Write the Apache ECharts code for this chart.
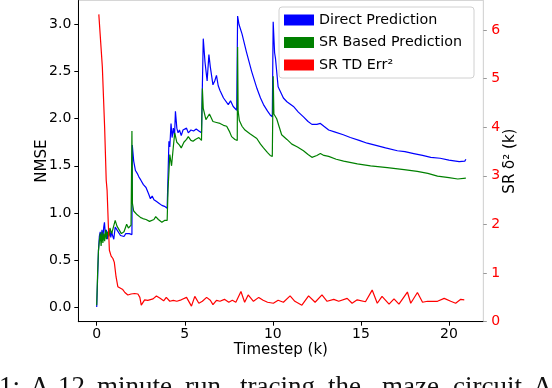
<!DOCTYPE html>
<html>
<head>
<meta charset="utf-8">
<script src="https://cdn.jsdelivr.net/npm/echarts@6/dist/echarts.min.js"></script>
<style>html,body{margin:0;padding:0;background:#fff;}#c{width:552px;height:388px;}</style>
</head>
<body>
<div id="c"></div>
<script>
const xTicks = [0, 5, 10, 15, 20];
const leftTicks = [0, 0.5, 1.0, 1.5, 2.0, 2.5, 3.0];
const rightTicks = [0, 1, 2, 3, 4, 5, 6];

const directX = [0.00,0.05,0.10,0.15,0.20,0.25,0.30,0.35,0.40,0.44,0.50,0.55,0.60,0.65,0.70,0.75,0.80,0.85,0.90,0.97,1.05,1.15,1.25,1.35,1.45,1.55,1.65,1.75,1.85,1.95,2.00,2.02,2.10,2.20,2.30,2.40,2.50,2.65,2.80,2.95,3.05,3.15,3.25,3.40,3.55,3.70,3.85,4.00,4.05,4.10,4.15,4.22,4.28,4.35,4.42,4.47,4.55,4.62,4.70,4.80,4.90,5.00,5.10,5.20,5.35,5.50,5.65,5.80,5.95,6.00,6.05,6.15,6.27,6.37,6.45,6.60,6.70,6.80,6.90,7.00,7.20,7.47,7.60,7.75,7.95,8.00,8.08,8.14,8.25,8.50,8.80,9.10,9.30,9.47,9.70,9.85,9.97,10.02,10.10,10.15,10.30,10.40,10.60,10.80,11.17,11.45,11.74,12.00,12.22,12.50,12.70,12.90,13.17,13.50,14.00,14.40,14.90,15.36,15.80,16.40,17.07,17.50,18.00,18.50,18.97,19.50,20.00,20.58,20.90,20.96];
const directY = [0.00,0.30,0.60,0.75,0.80,0.70,0.82,0.72,0.85,0.90,0.75,0.82,0.72,0.80,0.76,0.82,0.74,0.80,0.76,0.72,0.85,0.82,0.80,0.76,0.74,0.75,0.78,0.76,0.78,0.76,0.77,1.72,1.55,1.45,1.42,1.38,1.35,1.30,1.27,1.20,1.15,1.18,1.14,1.12,1.10,1.08,1.07,1.05,1.40,1.76,1.70,1.95,1.80,1.90,1.82,2.08,1.90,1.85,1.88,1.82,1.88,1.86,1.90,1.85,1.88,1.87,1.89,1.87,1.85,2.35,2.85,2.60,2.40,2.68,2.55,2.36,2.40,2.46,2.35,2.30,2.22,2.15,2.19,2.13,2.09,3.09,3.00,3.02,2.90,2.71,2.50,2.32,2.22,2.15,2.08,2.04,2.02,3.03,2.70,2.64,2.34,2.30,2.22,2.18,2.13,2.07,2.02,1.97,1.94,1.94,1.95,1.92,1.88,1.86,1.83,1.80,1.77,1.74,1.72,1.69,1.66,1.65,1.63,1.61,1.59,1.58,1.56,1.545,1.55,1.57];

const srX = [0.00,0.05,0.10,0.15,0.20,0.25,0.30,0.35,0.40,0.45,0.50,0.55,0.60,0.70,0.75,0.85,0.95,1.05,1.15,1.25,1.40,1.55,1.70,1.80,1.95,2.00,2.03,2.10,2.30,2.50,2.62,2.80,3.00,3.10,3.25,3.35,3.50,3.70,3.85,4.00,4.05,4.15,4.25,4.35,4.43,4.55,4.70,4.80,4.95,5.10,5.20,5.35,5.47,5.60,5.80,5.95,6.00,6.05,6.20,6.40,6.60,6.80,7.00,7.20,7.38,7.55,7.66,7.85,7.98,8.00,8.03,8.10,8.25,8.42,8.70,9.09,9.30,9.47,9.70,9.85,9.97,10.02,10.06,10.22,10.35,10.50,10.80,11.08,11.40,11.74,12.00,12.22,12.50,12.70,12.90,13.17,13.60,14.02,14.80,15.55,16.50,17.45,18.20,18.80,19.35,20.00,20.50,20.96];
const srY = [0.02,0.35,0.60,0.70,0.78,0.65,0.80,0.68,0.78,0.70,0.82,0.72,0.80,0.75,0.84,0.78,0.80,0.92,0.86,0.85,0.78,0.80,0.88,0.84,0.87,1.87,1.10,1.02,0.98,0.95,0.94,0.93,0.91,0.90,0.93,0.96,0.93,0.90,0.92,0.92,1.25,1.62,1.50,1.70,1.85,1.75,1.72,1.69,1.75,1.78,1.81,1.77,1.76,1.78,1.80,1.77,2.32,2.11,1.99,2.05,1.97,1.96,1.95,1.93,1.92,1.86,1.81,1.78,1.77,2.76,2.08,1.98,1.92,1.88,1.84,1.79,1.73,1.69,1.64,1.61,1.60,2.45,2.05,2.00,1.92,1.83,1.78,1.73,1.70,1.66,1.62,1.59,1.61,1.63,1.61,1.60,1.57,1.55,1.52,1.50,1.48,1.46,1.44,1.42,1.39,1.375,1.36,1.37];

const tdX = [0.12,0.32,0.45,0.54,0.59,0.66,0.72,0.82,0.92,1.00,1.10,1.20,1.30,1.48,1.60,1.77,1.95,2.15,2.34,2.45,2.53,2.72,2.90,3.20,3.39,3.60,3.80,3.95,4.15,4.35,4.55,4.80,5.10,5.38,5.57,5.80,6.00,6.24,6.45,6.60,6.80,7.00,7.25,7.50,7.70,7.90,8.19,8.40,8.60,8.90,9.20,9.45,9.70,10.03,10.30,10.60,10.98,11.25,11.65,12.03,12.40,12.79,13.08,13.46,13.74,14.22,14.50,14.79,15.26,15.64,15.93,16.20,16.60,16.88,17.16,17.64,17.83,18.21,18.50,18.78,19.35,19.73,20.10,20.38,20.67,20.87];
const tdY = [6.32,5.24,4.00,2.91,2.70,2.00,1.47,1.35,1.30,1.22,0.92,0.72,0.70,0.66,0.60,0.55,0.57,0.58,0.57,0.50,0.34,0.45,0.44,0.47,0.53,0.48,0.43,0.50,0.42,0.44,0.42,0.45,0.50,0.32,0.52,0.38,0.42,0.50,0.44,0.35,0.44,0.42,0.46,0.40,0.44,0.40,0.62,0.40,0.55,0.42,0.50,0.44,0.40,0.38,0.44,0.40,0.53,0.42,0.34,0.53,0.40,0.55,0.42,0.46,0.42,0.48,0.38,0.45,0.41,0.65,0.38,0.52,0.36,0.47,0.36,0.61,0.38,0.60,0.40,0.42,0.42,0.48,0.42,0.38,0.46,0.45];

const seriesNames = ['Direct Prediction', 'SR Based Prediction', 'SR TD Err\u00b2'];
const seriesColors = ['#0000ff', '#008000', '#ff0000'];

// caption fragment visible below the figure (cropped)
const captionWords = ['1:', 'A', '12', 'minute', 'run', 'tracing', 'the', 'maze', 'circuit.', 'A'];
const captionLeft = [-1, 30, 58, 97, 185, 240, 328, 382, 453, 533];

function zip(xs, ys) { return xs.map((x, i) => [x, ys[i]]); }

const font = 'DejaVu Sans';
const chart = echarts.init(document.getElementById('c'), null, {renderer: 'canvas'});
chart.setOption({
  animation: false,
  backgroundColor: '#fff',
  grid: {left: 78.3, right: 68.7, top: 0.5, bottom: 66.3, show: true, borderColor: '#d6d6d6', borderWidth: 1, backgroundColor: 'transparent'},
  legend: {
    orient: 'vertical', left: 279, top: 7,
    icon: 'rect', itemWidth: 30, itemHeight: 11, itemGap: 8.5, itemTextGap: 14,
    padding: [6, 12, 6, 5],
    backgroundColor: 'rgba(255,255,255,0.85)', borderColor: '#d0d0d0', borderWidth: 1, borderRadius: 3,
    textStyle: {fontFamily: font, fontSize: 14.3, color: '#000'},
    data: seriesNames
  },
  xAxis: {
    type: 'value', min: -1.045, max: 21.95,
    name: 'Timestep (k)', nameLocation: 'middle', nameGap: 21, nameMoveOverlap: false,
    nameTextStyle: {fontFamily: font, fontSize: 15, color: '#000', verticalAlign: 'top'},
    axisLine: {show: true, onZero: false, lineStyle: {color: '#000', width: 1}},
    axisTick: {show: true, length: 4, lineStyle: {color: '#000'}, customValues: xTicks},
    axisLabel: {fontFamily: font, fontSize: 14, color: '#000', margin: 6, customValues: xTicks},
    splitLine: {show: false}
  },
  yAxis: [{
    type: 'value', min: -0.155, max: 3.255, position: 'left',
    name: 'NMSE', nameLocation: 'middle', nameGap: 29, nameRotate: 90, nameMoveOverlap: false,
    nameTextStyle: {fontFamily: font, fontSize: 15, color: '#000'},
    axisLine: {show: true, onZero: false, lineStyle: {color: '#000', width: 1}},
    axisTick: {show: true, length: 4, lineStyle: {color: '#000'}, customValues: leftTicks},
    axisLabel: {fontFamily: font, fontSize: 14, color: '#000', margin: 7, customValues: leftTicks, formatter: v => v.toFixed(1)},
    splitLine: {show: false}
  }, {
    type: 'value', min: 0, max: 6.605, position: 'right',
    name: 'SR \u03b4\u00b2 (k)', nameLocation: 'middle', nameGap: 19, nameRotate: 90, nameMoveOverlap: false,
    nameTextStyle: {fontFamily: font, fontSize: 15, color: '#000'},
    axisLine: {show: true, onZero: false, lineStyle: {color: '#d6d6d6', width: 1}},
    axisTick: {show: true, length: 3.5, lineStyle: {color: '#999'}, customValues: rightTicks},
    axisLabel: {fontFamily: font, fontSize: 14, color: '#ff0000', margin: 8, customValues: rightTicks},
    splitLine: {show: false}
  }],
  graphic: captionWords.map((w, i) => ({
    type: 'text', left: captionLeft[i], top: 374,
    style: {text: w, fontFamily: 'Liberation Serif', fontSize: 27, fill: '#111'}
  })),
  series: [
    {name: seriesNames[0], type: 'line', yAxisIndex: 0, data: zip(directX, directY), showSymbol: false, symbol: 'none', lineStyle: {color: seriesColors[0], width: 1.2}, itemStyle: {color: seriesColors[0]}},
    {name: seriesNames[1], type: 'line', yAxisIndex: 0, data: zip(srX, srY), showSymbol: false, symbol: 'none', lineStyle: {color: seriesColors[1], width: 1.2}, itemStyle: {color: seriesColors[1]}},
    {name: seriesNames[2], type: 'line', yAxisIndex: 1, data: zip(tdX, tdY), showSymbol: false, symbol: 'none', lineStyle: {color: seriesColors[2], width: 1.2}, itemStyle: {color: seriesColors[2]}}
  ]
});
</script>
</body>
</html>
